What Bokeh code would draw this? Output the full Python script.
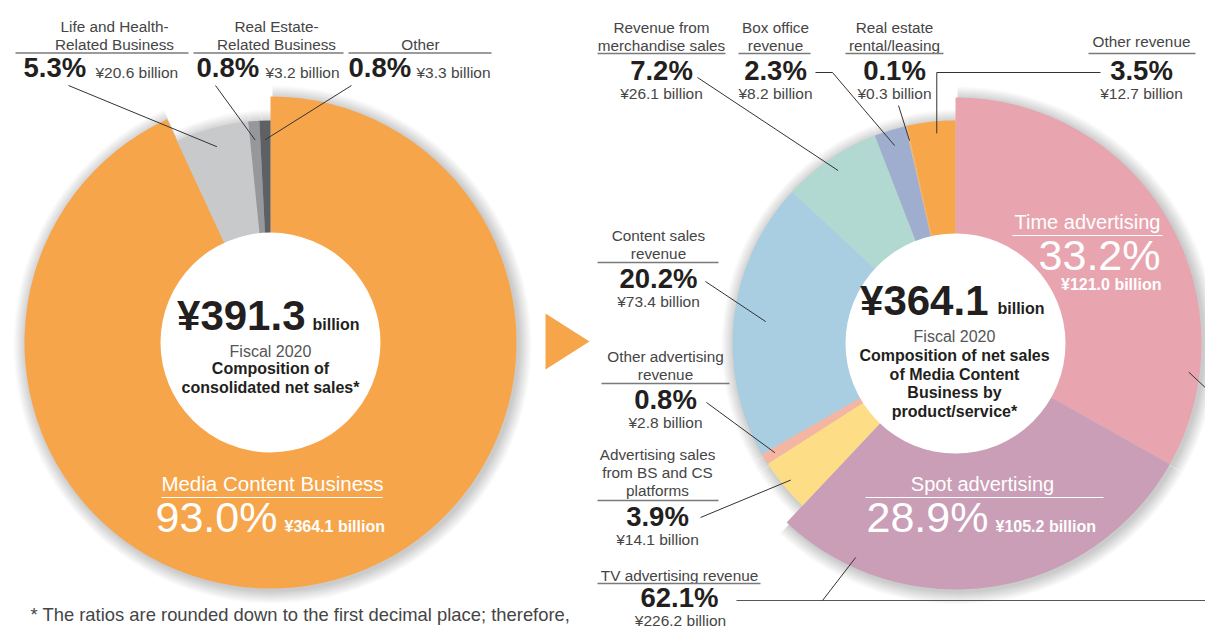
import math
from bokeh.plotting import figure
from bokeh.models import Range1d
from bokeh.core.properties import value
from bokeh.embed import file_html
from bokeh.resources import INLINE

# ---------------- data ----------------
left_total = 391.3
left_categories = ["Media Content Business", "Life and Health-Related Business",
                   "Real Estate-Related Business", "Other"]
left_shares = [93.0, 5.3, 0.8, 0.8]
left_amounts = [364.1, 20.6, 3.2, 3.3]
left_colors = ["#F7A54B", "#C8C9CB", "#97989B", "#5F6064"]

right_total = 364.1
right_categories = ["Time advertising", "Spot advertising",
                    "Advertising sales from BS and CS platforms",
                    "Other advertising revenue", "Content sales revenue",
                    "Revenue from merchandise sales", "Box office revenue",
                    "Real estate rental/leasing", "Other revenue"]
right_shares = [33.2, 28.9, 3.9, 0.8, 20.2, 7.2, 2.3, 0.1, 3.5]
right_amounts = [121.0, 105.2, 14.1, 2.8, 73.4, 26.1, 8.2, 0.3, 12.7]
right_colors = ["#E8A5AF", "#C99EB6", "#FDDE86", "#F5B5A3", "#A9CDE1",
                "#B2D9D1", "#9FADCF", "#E9B77A", "#F8A64A"]
tv_share = 62.1
tv_amount = 226.2

# ---------------- helpers ----------------
W, H = 1205, 628
FONT = "Liberation Sans"
DARK = "#231F20"
LIGHT = "#454545"


def Y(py):
    return 628 - py


def pct(s):
    return f"{s:.1f}%"


def amt(a):
    return f"¥{a:.1f} billion"


p = figure(width=W, height=H, x_range=Range1d(0, W), y_range=Range1d(628 - H, 628),
           x_axis_type=None, y_axis_type=None, toolbar_location=None,
           output_backend="svg", min_border=0)
p.outline_line_color = None
p.grid.visible = False
p.background_fill_color = "white"


def T(x, y, s, size, color=LIGHT, bold=False, align="center"):
    # y is the baseline (reference pixels); draw with middle baseline
    ym = y - 0.35 * size
    p.text(x=[x], y=[Y(ym)], text=[s], text_font=value(FONT), text_font_size=f"{size}px",
           text_color=color, text_font_style="bold" if bold else "normal",
           text_align=align, text_baseline="middle")


def L(xs, ys, color="#333333", width=1.0):
    p.line(x=list(xs), y=[Y(v) for v in ys], line_color=color, line_width=width)


def wedges(shares):
    tot = sum(shares)
    out = []
    c = 0.0
    for s in shares:
        a0 = c / tot * 360.0
        c += s
        a1 = c / tot * 360.0
        out.append((a0, a1))
    return out


def polar(cx, cy, r, th):
    t = math.radians(th)
    return cx + r * math.sin(t), cy - r * math.cos(t)


def draw_donut(cx, cy, shares, colors, radii, r_in):
    ang = wedges(shares)
    starts = [math.radians(90 - a1) for a0, a1 in ang]
    ends = [math.radians(90 - a0) for a0, a1 in ang]
    n = len(shares)
    # soft shadow
    for k in range(1, 14):
        p.annular_wedge(x=[cx + 2] * n, y=[Y(cy + 2)] * n, inner_radius=r_in,
                        outer_radius=[r + k for r in radii], start_angle=starts,
                        end_angle=ends, fill_color="black", fill_alpha=0.015,
                        line_color=None)
    p.annular_wedge(x=[cx] * n, y=[Y(cy)] * n, inner_radius=r_in - 4,
                    outer_radius=radii, start_angle=starts, end_angle=ends,
                    fill_color=colors, line_color=None)
    p.circle(x=[cx], y=[Y(cy)], radius=r_in, fill_color="white", line_color=None)
    return ang


# ---------------- left donut ----------------
LCX, LCY = 270, 342
lang = draw_donut(LCX, LCY, left_shares, left_colors, [246, 222, 222, 222], 110)

T(305, 330, f"¥{left_total:.1f}", 42, DARK, True, "right")
T(312, 330, "billion", 16, DARK, True, "left")
T(LCX, 357, "Fiscal 2020", 16, "#555555")
T(LCX, 374, "Composition of", 16, DARK, True)
T(LCX, 393, "consolidated net sales*", 16, DARK, True)

T(272, 490, left_categories[0], 20.5, "white")
L([161, 382], [497, 497], "white", 1)
T(155, 532, pct(left_shares[0]), 43, "white", False, "left")
T(284, 532, amt(left_amounts[0]), 16, "white", True, "left")

left_top = [
    (1, ["Life and Health-", "Related Business"], 114, (15, 188), 23, 95, (68, 85)),
    (2, ["Real Estate-", "Related Business"], 276, (193, 343), 196, 265, (215, 85)),
    (3, ["Other"], 420, (348, 491), 348, 416, (351, 85)),
]
for i, lines, cx, (u0, u1), px, ax, (sx, sy) in left_top:
    base = 49 - 18 * (len(lines) - 1)
    for j, ln in enumerate(lines):
        T(cx, base + 18 * j, ln, 15.3)
    L([u0, u1], [52.5, 52.5], "#7A7A7A", 1.5)
    T(px, 77, pct(left_shares[i]), 27.5, DARK, True, "left")
    T(ax, 77, amt(left_amounts[i]), 15.5, LIGHT, False, "left")
    a0, a1 = lang[i]
    ex, ey = polar(LCX, LCY, 203, (a0 + a1) / 2)
    L([sx, ex], [sy, ey])

T(30, 620, "* The ratios are rounded down to the first decimal place;  therefore,", 18.4, LIGHT,
  False, "left")

# arrow
p.patch(x=[545, 545, 589], y=[Y(313), Y(369), Y(341)], fill_color="#F7A54B", line_color=None)

# ---------------- right donut ----------------
RCX, RCY = 955, 343
rradii = [246, 246, 223, 223, 223, 223, 223, 223, 223]
rang = draw_donut(RCX, RCY, right_shares, right_colors, rradii, 110)

T(988, 315, f"¥{right_total:.1f}", 42, DARK, True, "right")
T(997, 314, "billion", 16, DARK, True, "left")
T(RCX - 1, 342, "Fiscal 2020", 16, "#555555")
for j, ln in enumerate(["Composition of net sales", "of Media Content", "Business by",
                        "product/service*"]):
    T(RCX - 1, 361 + 18.5 * j, ln, 16, DARK, True)

T(1087, 228, right_categories[0], 20, "white")
L([1012, 1162], [235, 235], "white", 1)
T(1160, 270, pct(right_shares[0]), 43, "white", False, "right")
T(1161, 290, amt(right_amounts[0]), 16, "white", True, "right")

T(982, 490, right_categories[1], 20, "white")
L([865, 1103], [497, 497], "white", 1)
T(866, 532, pct(right_shares[1]), 43, "white", False, "left")
T(995, 532, amt(right_amounts[1]), 16, "white", True, "left")

# top labels (centered)
right_top = [
    (5, ["Revenue from", "merchandise sales"], 661, (597, 725)),
    (6, ["Box office", "revenue"], 775, (738, 810)),
    (7, ["Real estate", "rental/leasing"], 894, (845, 943)),
    (8, ["Other revenue"], 1141, (1088, 1195)),
]
for i, lines, cx, (u0, u1) in right_top:
    base = 50 - 18 * (len(lines) - 1) if len(lines) > 1 else 46
    for j, ln in enumerate(lines):
        T(cx, base + 18 * j, ln, 15.3)
    L([u0, u1], [53, 53], "#7A7A7A", 1.5)
    T(cx, 80, pct(right_shares[i]), 27.5, DARK, True)
    T(cx, 98, amt(right_amounts[i]), 15.5)


def mid(i):
    a0, a1 = rang[i]
    return (a0 + a1) / 2


ex, ey = polar(RCX, RCY, 209, mid(5))
L([697, ex], [77, ey])
ex, ey = polar(RCX, RCY, 207, mid(6))
L([815, 832, ex], [72, 72, ey])
ex, ey = polar(RCX, RCY, 208, mid(7))
L([898, ex], [105, ey])
ex, ey = polar(RCX, RCY, 211, mid(8) + 1.2)
L([1100, ex, ex], [72, 72, ey])

# left-side labels
right_side = [
    (4, ["Content sales", "revenue"], 658, 240, (597, 718), 262, (705, 281), 191),
    (3, ["Other advertising", "revenue"], 665, 361, (601, 729), 383, (706, 402), 211),
    (2, ["Advertising sales", "from BS and CS", "platforms"], 657, 459, (597, 718), 500,
     (700, 517), 214),
]
for i, lines, cx, b0, (u0, u1), uy, (sx, sy), rr in right_side:
    for j, ln in enumerate(lines):
        T(cx, b0 + 18 * j, ln, 15.3)
    L([u0, u1], [uy, uy], "#7A7A7A", 1.5)
    T(cx, uy + 26, pct(right_shares[i]), 27.5, DARK, True)
    T(cx, uy + 44, amt(right_amounts[i]), 15.5)
    ex, ey = polar(RCX, RCY, rr, mid(i))
    L([sx, ex], [sy, ey])

# TV advertising group label
T(679, 580, "TV advertising revenue", 15.3)
L([597, 760], [583, 583], "#7A7A7A", 1.5)
T(679, 607, pct(tv_share), 27.5, DARK, True)
T(680, 625, amt(tv_amount), 15.5)
ex, ey = polar(RCX, RCY, 236, 205)
L([736, 1205], [600, 600], "#555555", 1.2)
L([822, ex], [600, ey])

# time advertising leader heading off to the right
ex, ey = polar(RCX, RCY, 235, 97)
L([ex, ex + 30], [ey, ey + 28])

open("out.html", "w").write(file_html(p, INLINE))
